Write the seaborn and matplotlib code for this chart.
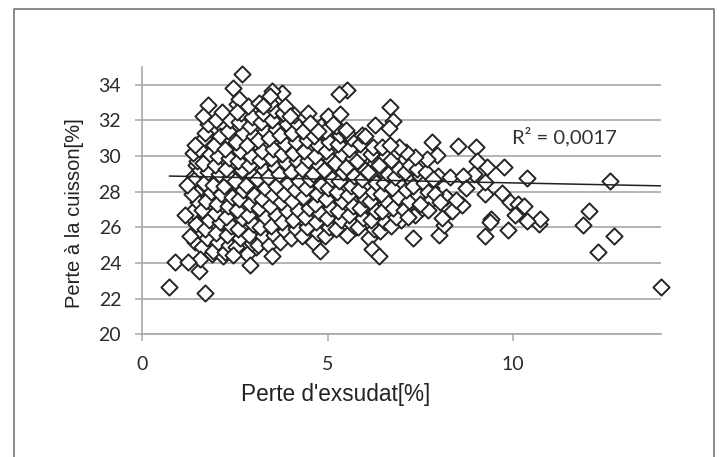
import matplotlib
matplotlib.use('Agg')
import matplotlib.pyplot as plt
from matplotlib.lines import Line2D
import pandas as pd
import seaborn as sns

# Points isoles
x_edge = [13.99, 12.3, 12.73, 11.9, 12.07, 12.62, 10.7, 10.73, 10.37, 9.86,
          9.25, 9.41, 9.38, 8.01, 7.31, 8.15, 8.08, 8.37, 7.72, 8.62,
          8.48, 8.03, 7.49, 7.18, 7.83, 8.51, 9.0, 9.77, 10.37, 9.31,
          9.03, 8.96, 8.3, 8.66, 8.73, 9.25, 9.25, 9.7, 9.92, 10.13,
          10.3, 10.06, 7.96, 7.69, 7.36, 7.13, 6.93, 6.68, 6.68, 6.76,
          6.67, 2.7, 2.46, 2.62, 5.53, 5.31, 3.78, 3.51, 3.45, 3.26,
          1.78, 1.65, 2.14, 2.55, 3.85, 3.98, 4.48, 5.02, 5.33, 5.15,
          4.52, 6.28, 6.0, 5.51, 4.75, 1.42, 1.2, 1.15, 0.88, 0.73,
          1.68, 1.53, 2.9, 3.49, 4.79, 2.46, 1.56, 1.24, 6.2, 6.4]
y_edge = [22.67, 24.6, 25.5, 26.15, 26.9, 28.6, 26.2, 26.45, 26.35, 25.85,
          25.5, 26.45, 26.3, 25.55, 25.4, 26.15, 26.5, 26.9, 26.95, 27.25,
          27.55, 27.45, 27.3, 26.6, 30.8, 30.55, 30.5, 29.4, 28.75, 29.4,
          29.7, 29.0, 28.8, 28.9, 28.2, 27.85, 28.55, 27.95, 27.45, 27.3,
          27.2, 26.7, 30.05, 29.85, 29.95, 30.25, 30.5, 30.6, 32.77, 31.98,
          31.55, 34.6, 33.83, 33.2, 33.7, 33.46, 33.55, 33.66, 33.4, 32.8,
          32.86, 32.26, 32.5, 32.5, 32.8, 32.26, 32.4, 32.26, 32.35, 31.8,
          31.83, 31.74, 31.1, 31.45, 31.4, 30.6, 28.37, 26.7, 24.07, 22.67,
          22.3, 23.57, 23.9, 24.4, 24.7, 24.45, 24.2, 24.07, 24.8, 24.4]

# Nuage dense
x_dense = [1.3, 1.45, 1.38, 1.5, 1.33, 1.42, 1.55, 1.48, 1.36, 1.52,
           1.62, 1.75, 1.68, 1.8, 1.6, 1.72, 1.85, 1.66, 1.78, 1.63, 1.82, 1.7, 1.77,
           1.92, 2.05, 1.98, 2.1, 1.95, 2.02, 2.12, 1.9, 2.08, 1.97, 2.04, 1.93, 2.11, 2.0,
           2.22, 2.35, 2.28, 2.4, 2.25, 2.32, 2.42, 2.2, 2.38, 2.27, 2.34, 2.23, 2.41, 2.3, 2.36,
           2.52, 2.65, 2.58, 2.7, 2.55, 2.62, 2.72, 2.5, 2.68, 2.57, 2.64, 2.53, 2.71, 2.6, 2.66, 2.56,
           2.82, 2.95, 2.88, 3.0, 2.85, 2.92, 3.02, 2.8, 2.98, 2.87, 2.94, 2.83, 3.01, 2.9, 2.96, 2.86,
           3.12, 3.25, 3.18, 3.3, 3.15, 3.22, 3.32, 3.1, 3.28, 3.17, 3.24, 3.13, 3.31, 3.2, 3.26, 3.16,
           3.42, 3.55, 3.48, 3.6, 3.45, 3.52, 3.62, 3.4, 3.58, 3.47, 3.54, 3.43, 3.61, 3.5, 3.56, 3.46,
           3.72, 3.85, 3.78, 3.9, 3.75, 3.82, 3.92, 3.7, 3.88, 3.77, 3.84, 3.73, 3.91, 3.8,
           4.02, 4.15, 4.08, 4.2, 4.05, 4.12, 4.22, 4.0, 4.18, 4.07, 4.14, 4.03, 4.21, 4.1,
           4.32, 4.45, 4.38, 4.5, 4.35, 4.42, 4.52, 4.3, 4.48, 4.37, 4.44, 4.33, 4.51, 4.4,
           4.62, 4.75, 4.68, 4.8, 4.65, 4.72, 4.82, 4.6, 4.78, 4.67, 4.74, 4.63, 4.81,
           4.92, 5.05, 4.98, 5.1, 4.95, 5.02, 5.12, 4.9, 5.08, 4.97, 5.04, 4.93, 5.11,
           5.22, 5.35, 5.28, 5.4, 5.25, 5.32, 5.42, 5.2, 5.38, 5.27, 5.34, 5.23,
           5.52, 5.65, 5.58, 5.7, 5.55, 5.62, 5.72, 5.5, 5.68, 5.57, 5.64, 5.53,
           5.82, 5.95, 5.88, 6.0, 5.85, 5.92, 6.02, 5.8, 5.98, 5.87, 5.94,
           6.12, 6.25, 6.18, 6.3, 6.15, 6.22, 6.32, 6.1, 6.28, 6.17, 6.24,
           6.42, 6.55, 6.48, 6.6, 6.45, 6.52, 6.62, 6.4, 6.58, 6.47,
           6.72, 6.85, 6.78, 6.9, 6.75, 6.82, 6.92, 6.7, 6.88,
           7.05, 7.2, 7.12, 7.28, 7.08, 7.22, 7.35, 7.45, 7.3, 7.5, 7.42, 7.55, 7.6, 7.7, 7.65, 7.75, 7.85, 7.9]
y_dense = [25.5, 26.2, 26.9, 27.4, 27.9, 28.7, 29.2, 29.7, 30.2, 30.4,
           24.9, 25.4, 25.9, 26.4, 27.0, 27.5, 28.0, 28.5, 29.1, 29.6, 30.1, 31.3, 31.8,
           24.7, 25.2, 25.7, 26.3, 26.8, 27.3, 27.9, 28.4, 29.0, 29.5, 30.0, 30.6, 31.1, 32.0,
           24.6, 25.0, 25.6, 26.1, 26.6, 27.2, 27.7, 28.3, 28.8, 29.3, 29.9, 30.4, 30.9, 31.4, 32.0,
           24.9, 25.4, 25.9, 26.5, 27.0, 27.6, 28.1, 28.6, 29.2, 29.7, 30.3, 30.8, 31.3, 31.9, 32.4, 32.9,
           24.5, 25.1, 25.6, 26.2, 26.7, 27.3, 27.8, 28.4, 28.9, 29.5, 30.0, 30.6, 31.1, 31.7, 32.2, 32.8,
           25.0, 25.5, 26.0, 26.6, 27.1, 27.6, 28.2, 28.7, 29.2, 29.8, 30.3, 30.9, 31.4, 31.9, 32.4, 33.0,
           25.0, 25.6, 26.1, 26.7, 27.2, 27.8, 28.3, 28.8, 29.4, 29.9, 30.4, 31.0, 31.5, 32.0, 32.6, 33.0,
           25.2, 25.8, 26.3, 26.9, 27.4, 27.9, 28.5, 29.0, 29.6, 30.1, 30.7, 31.2, 31.8, 32.4,
           25.4, 25.9, 26.4, 27.0, 27.5, 28.1, 28.6, 29.1, 29.7, 30.2, 30.8, 31.3, 31.8, 32.3,
           25.5, 26.0, 26.6, 27.1, 27.7, 28.2, 28.7, 29.3, 29.8, 30.3, 30.9, 31.4, 31.9, 32.2,
           25.2, 25.7, 26.3, 26.8, 27.3, 27.9, 28.4, 29.0, 29.5, 30.0, 30.6, 31.1, 31.7,
           25.5, 26.0, 26.5, 27.1, 27.6, 28.2, 28.7, 29.2, 29.8, 30.3, 30.8, 31.4, 31.9,
           25.9, 26.4, 26.9, 27.5, 28.0, 28.6, 29.1, 29.6, 30.1, 30.7, 31.2, 31.7,
           25.6, 26.2, 26.7, 27.2, 27.8, 28.3, 28.9, 29.4, 29.9, 30.4, 31.0, 31.3,
           26.0, 26.5, 27.1, 27.6, 28.1, 28.7, 29.2, 29.7, 30.2, 30.7, 31.2,
           25.4, 25.9, 26.4, 26.9, 27.5, 28.0, 28.5, 29.1, 29.6, 30.1, 30.5,
           25.8, 26.3, 26.9, 27.4, 27.9, 28.5, 29.0, 29.5, 30.0, 30.5,
           26.1, 26.6, 27.1, 27.7, 28.2, 28.8, 29.3, 29.8, 30.3,
           27.0, 27.5, 28.1, 28.6, 29.1, 29.5, 26.7, 27.8, 28.3, 28.9, 29.3, 27.1, 28.5, 28.0, 29.1, 27.4, 28.7, 27.9]

# Points supplementaires, entre les colonnes du nuage
x_extra = [1.41, 1.57, 1.35, 1.6, 1.47, 1.56, 1.39, 1.44, 1.58, 1.51,
           1.88, 1.74, 1.86, 1.7, 1.83, 1.76, 1.89, 1.73, 1.84, 1.79, 1.91, 1.67,
           2.18, 2.07, 2.16, 2.01, 2.19, 2.06, 2.14, 2.03, 2.17, 1.99, 2.13, 2.09, 2.21,
           2.47, 2.31, 2.45, 2.37, 2.49, 2.29, 2.44, 2.33, 2.46, 2.39, 2.48, 2.26, 2.43,
           2.77, 2.61, 2.75, 2.67, 2.79, 2.59, 2.74, 2.63, 2.76, 2.69, 2.78, 2.73, 2.81,
           3.07, 2.91, 3.05, 2.97, 3.09, 2.89, 3.04, 2.93, 3.06, 2.99, 3.08, 3.03, 3.11,
           3.37, 3.21, 3.35, 3.27, 3.39, 3.19, 3.34, 3.23, 3.36, 3.29, 3.38, 3.33, 3.41,
           3.67, 3.51, 3.65, 3.57, 3.69, 3.49, 3.64, 3.53, 3.66, 3.59, 3.68, 3.63,
           3.97, 3.81, 3.95, 3.87, 3.99, 3.79, 3.94, 3.83, 3.96, 3.89, 3.98, 3.93,
           4.27, 4.11, 4.25, 4.17, 4.29, 4.09, 4.24, 4.13, 4.26, 4.19, 4.28,
           4.57, 4.41, 4.55, 4.47, 4.59, 4.39, 4.54, 4.43, 4.56, 4.49, 4.58,
           4.87, 4.71, 4.85, 4.77, 4.89, 4.69, 4.84, 4.73, 4.86, 4.79,
           5.17, 5.01, 5.15, 5.07, 5.19, 4.99, 5.14, 5.03, 5.16, 5.09,
           5.47, 5.31, 5.45, 5.37, 5.49, 5.29, 5.44, 5.33, 5.46,
           5.77, 5.61, 5.75, 5.67, 5.79, 5.59, 5.74, 5.63,
           6.07, 5.91, 6.05, 5.97, 6.09, 5.89, 6.04,
           6.37, 6.21, 6.35, 6.27, 6.39, 6.19,
           6.97, 6.81, 6.95, 7.01, 7.15, 7.25, 7.4, 7.58, 7.78, 7.98, 8.2]
y_extra = [25.2, 25.8, 26.5, 27.2, 27.7, 28.2, 28.9, 29.5, 30.0, 30.7,
           24.5, 25.1, 25.6, 26.2, 26.7, 27.2, 27.8, 28.3, 28.8, 29.4, 30.4, 31.0,
           24.4, 25.0, 25.5, 26.0, 26.6, 27.1, 27.6, 28.2, 28.7, 29.3, 29.8, 30.3, 31.6,
           24.8, 25.3, 25.8, 26.4, 26.9, 27.4, 28.0, 28.5, 29.1, 29.6, 30.1, 30.7, 31.2,
           25.1, 25.7, 26.2, 26.8, 27.3, 27.8, 28.4, 28.9, 29.5, 30.0, 30.5, 31.1, 31.6,
           24.9, 25.4, 25.9, 26.4, 27.0, 27.5, 28.1, 28.6, 29.2, 29.7, 30.2, 30.8, 31.3,
           25.3, 25.8, 26.3, 26.9, 27.4, 27.9, 28.5, 29.0, 29.5, 30.1, 30.6, 31.2, 31.7,
           25.4, 25.9, 26.4, 27.0, 27.5, 28.0, 28.6, 29.2, 29.7, 30.2, 30.8, 31.3,
           25.7, 26.2, 26.7, 27.3, 27.8, 28.3, 28.9, 29.4, 29.9, 30.5, 31.0, 31.5,
           25.8, 26.3, 26.9, 27.4, 27.9, 28.5, 29.0, 29.6, 30.1, 30.6, 31.2,
           25.7, 26.3, 26.8, 27.3, 27.9, 28.4, 29.0, 29.5, 30.0, 30.6, 31.1,
           25.8, 26.3, 26.9, 27.4, 27.9, 28.5, 29.0, 29.6, 30.1, 30.6,
           26.1, 26.6, 27.2, 27.7, 28.3, 28.8, 29.3, 29.9, 30.4, 30.9,
           26.1, 26.7, 27.2, 27.7, 28.3, 28.8, 29.4, 29.9, 30.4,
           26.0, 26.5, 27.0, 27.6, 28.1, 28.6, 29.2, 29.7,
           26.3, 26.8, 27.3, 27.9, 28.4, 28.9, 29.5,
           26.1, 26.6, 27.2, 27.7, 28.2, 28.8,
           26.4, 27.0, 27.6, 28.3, 27.3, 28.0, 26.9, 27.6, 28.2, 28.9, 27.7]

# Droite de tendance
x_trend = [0.73, 14.0]
y_trend = [28.88, 28.33]

x_ticks = [0, 5, 10]
y_ticks = [20, 22, 24, 26, 28, 30, 32, 34]

sns.set_theme(style='white')
plt.rcParams['font.family'] = ['Liberation Sans', 'DejaVu Sans']

df = pd.DataFrame({'exsudat': x_extra + x_dense + x_edge, 'cuisson': y_extra + y_dense + y_edge})
trend = pd.DataFrame({'exsudat': x_trend, 'cuisson': y_trend})

fig = plt.figure(figsize=(7.19, 4.57), dpi=100)
ax = fig.add_axes([142.3 / 719, 1 - 334.3 / 457, (661 - 142.3) / 719, (334.3 - 67) / 457])

sns.scatterplot(data=df, x='exsudat', y='cuisson', marker='D', s=68, color='white',
                edgecolor='#262626', linewidth=1.4, clip_on=False, zorder=3, ax=ax)
sns.lineplot(data=trend, x='exsudat', y='cuisson', color='#222222', linewidth=1.1,
             zorder=4, ax=ax, errorbar=None)

ax.set_xlim(0, 14)
ax.set_ylim(20, 35)
ax.set_xticks(x_ticks)
ax.set_yticks(y_ticks)
ax.yaxis.grid(True, color='#a8a8a8', linewidth=1.2)
ax.set_axisbelow(True)
ax.tick_params(axis='y', length=5.2, width=1.1, color='#a8a8a8', pad=10,
               labelsize=14, labelcolor='#2b2b2b', left=True)
ax.tick_params(axis='x', length=5.2, width=1.1, color='#a8a8a8', pad=10.5,
               labelsize=14, labelcolor='#2b2b2b', bottom=True)
for label in ax.get_xticklabels() + ax.get_yticklabels():
    label.set_family(['Lato', 'DejaVu Sans'])
for name in ['top', 'right']:
    ax.spines[name].set_visible(False)
for name in ['left', 'bottom']:
    ax.spines[name].set_color('#a8a8a8')
    ax.spines[name].set_linewidth(1.2)

ax.set_xlabel("Perte d'exsudat[%]", fontsize=16.3, color='#222222')
ax.xaxis.set_label_coords(0.3725, -0.182)
ax.set_ylabel('Perte à la cuisson[%]', fontsize=14.5, color='#222222')
ax.yaxis.set_label_coords(-0.112, 0.454)
ax.text(9.98, 31.1, 'R² = 0,0017', fontsize=14.6, color='#333333', va='center',
        family=['Lato', 'DejaVu Sans'])

# Cadre ouvert en bas
frame_x = [14.5 / 719, 14.5 / 719, 714 / 719, 714 / 719]
frame_y = [0, 1 - 8.5 / 457, 1 - 8.5 / 457, 0]
fig.add_artist(Line2D(frame_x, frame_y, color='#777777', linewidth=1.2))

fig.savefig('out.png', dpi=100)
